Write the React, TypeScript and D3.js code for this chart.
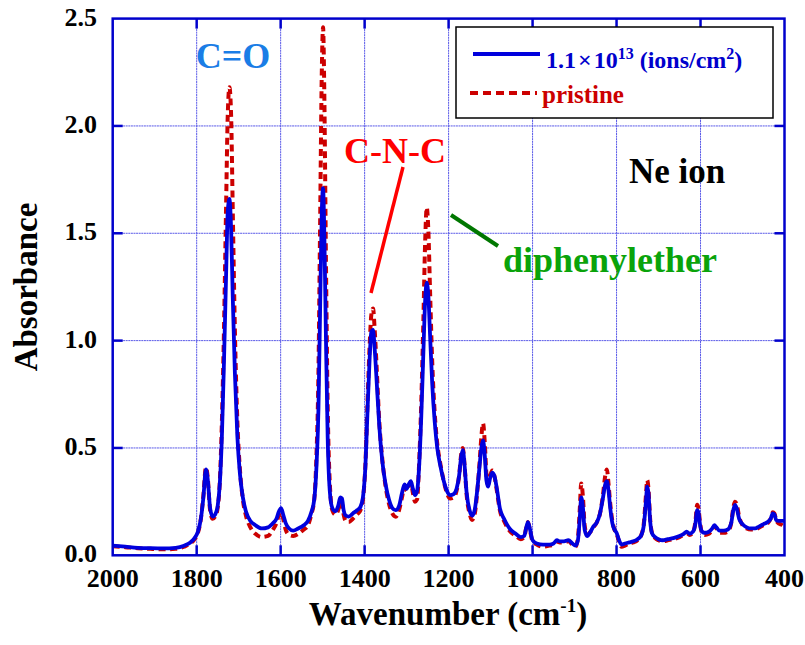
import React from "react";
import * as d3 from "d3";

const wavenumbers = [2000, 1970, 1940, 1910, 1880, 1850, 1830, 1815, 1805, 1797, 1790, 1784, 1778, 1774, 1768, 1762, 1756, 1750, 1745, 1740, 1735, 1730, 1726, 1722, 1718, 1714, 1709, 1703, 1697, 1690, 1682, 1672, 1660, 1645, 1630, 1618, 1610, 1604, 1599, 1594, 1588, 1580, 1570, 1558, 1545, 1535, 1527, 1520, 1515, 1510, 1506, 1502, 1499, 1496, 1492, 1488, 1483, 1477, 1470, 1463, 1458, 1454, 1450, 1445, 1438, 1428, 1418, 1410, 1404, 1398, 1393, 1388, 1384, 1380, 1376, 1371, 1365, 1358, 1350, 1342, 1334, 1326, 1318, 1311, 1305, 1300, 1295, 1290, 1285, 1280, 1275, 1270, 1265, 1260, 1256, 1252, 1248, 1244, 1239, 1233, 1227, 1220, 1212, 1204, 1196, 1188, 1181, 1175, 1170, 1166, 1162, 1157, 1150, 1144, 1138, 1132, 1126, 1122, 1118, 1114, 1110, 1106, 1101, 1096, 1091, 1085, 1078, 1068, 1055, 1040, 1028, 1020, 1015, 1011, 1006, 1000, 990, 975, 960, 950, 942, 935, 925, 915, 905, 898, 892, 888, 884, 880, 876, 870, 862, 855, 848, 840, 833, 827, 823, 819, 815, 810, 805, 800, 794, 788, 780, 770, 760, 750, 742, 735, 730, 727, 724, 720, 715, 708, 700, 690, 678, 665, 650, 640, 633, 626, 618, 612, 608, 605, 601, 596, 590, 580, 572, 567, 562, 555, 545, 535, 527, 522, 518, 514, 508, 500, 490, 480, 470, 460, 450, 440, 433, 428, 424, 420, 415, 410, 405, 400];

const irradiated = [0.045, 0.04, 0.035, 0.033, 0.032, 0.035, 0.045, 0.06, 0.08, 0.11, 0.17, 0.27, 0.40, 0.36, 0.22, 0.18, 0.19, 0.23, 0.33, 0.55, 0.90, 1.30, 1.60, 1.66, 1.52, 1.20, 0.85, 0.55, 0.38, 0.27, 0.20, 0.16, 0.14, 0.125, 0.13, 0.15, 0.17, 0.205, 0.22, 0.19, 0.15, 0.125, 0.115, 0.125, 0.14, 0.16, 0.20, 0.26, 0.40, 0.68, 1.15, 1.60, 1.71, 1.50, 1.00, 0.55, 0.30, 0.22, 0.205, 0.23, 0.27, 0.265, 0.21, 0.185, 0.18, 0.195, 0.21, 0.225, 0.27, 0.42, 0.68, 0.92, 1.04, 1.05, 0.96, 0.80, 0.60, 0.44, 0.33, 0.26, 0.22, 0.21, 0.23, 0.29, 0.33, 0.31, 0.33, 0.345, 0.31, 0.28, 0.30, 0.42, 0.65, 0.95, 1.18, 1.27, 1.20, 1.02, 0.80, 0.62, 0.50, 0.42, 0.35, 0.30, 0.28, 0.285, 0.31, 0.37, 0.46, 0.49, 0.42, 0.29, 0.21, 0.185, 0.21, 0.30, 0.42, 0.50, 0.535, 0.47, 0.35, 0.32, 0.36, 0.385, 0.37, 0.31, 0.22, 0.17, 0.125, 0.10, 0.085, 0.09, 0.13, 0.155, 0.12, 0.07, 0.055, 0.05, 0.05, 0.055, 0.07, 0.065, 0.065, 0.07, 0.055, 0.045, 0.07, 0.16, 0.27, 0.22, 0.12, 0.09, 0.11, 0.135, 0.15, 0.19, 0.26, 0.33, 0.345, 0.30, 0.22, 0.15, 0.12, 0.105, 0.07, 0.05, 0.055, 0.06, 0.065, 0.075, 0.09, 0.14, 0.25, 0.32, 0.29, 0.16, 0.10, 0.085, 0.075, 0.07, 0.075, 0.08, 0.09, 0.10, 0.11, 0.10, 0.11, 0.15, 0.21, 0.20, 0.14, 0.11, 0.105, 0.11, 0.125, 0.14, 0.13, 0.115, 0.115, 0.12, 0.15, 0.21, 0.235, 0.22, 0.17, 0.145, 0.13, 0.125, 0.125, 0.135, 0.145, 0.155, 0.17, 0.195, 0.19, 0.165, 0.16, 0.16, 0.16, 0.16];

const pristine = [0.042, 0.038, 0.033, 0.03, 0.028, 0.03, 0.04, 0.055, 0.075, 0.105, 0.17, 0.28, 0.41, 0.37, 0.21, 0.17, 0.18, 0.22, 0.34, 0.62, 1.05, 1.62, 2.05, 2.18, 2.05, 1.60, 1.05, 0.62, 0.40, 0.26, 0.18, 0.13, 0.10, 0.085, 0.09, 0.12, 0.15, 0.19, 0.20, 0.17, 0.12, 0.095, 0.09, 0.10, 0.12, 0.14, 0.19, 0.26, 0.45, 0.85, 1.55, 2.25, 2.46, 2.15, 1.35, 0.70, 0.34, 0.21, 0.19, 0.21, 0.25, 0.24, 0.19, 0.16, 0.155, 0.17, 0.19, 0.21, 0.26, 0.43, 0.72, 0.98, 1.12, 1.15, 1.05, 0.86, 0.62, 0.45, 0.32, 0.24, 0.195, 0.18, 0.21, 0.27, 0.32, 0.30, 0.32, 0.34, 0.29, 0.25, 0.26, 0.44, 0.72, 1.10, 1.45, 1.62, 1.50, 1.22, 0.90, 0.66, 0.52, 0.43, 0.35, 0.29, 0.265, 0.27, 0.30, 0.37, 0.47, 0.50, 0.42, 0.28, 0.195, 0.165, 0.19, 0.29, 0.44, 0.55, 0.615, 0.53, 0.38, 0.33, 0.37, 0.395, 0.37, 0.30, 0.21, 0.16, 0.115, 0.09, 0.075, 0.085, 0.13, 0.155, 0.115, 0.065, 0.05, 0.04, 0.045, 0.05, 0.065, 0.06, 0.06, 0.065, 0.05, 0.04, 0.08, 0.20, 0.335, 0.27, 0.14, 0.095, 0.11, 0.13, 0.15, 0.19, 0.27, 0.37, 0.40, 0.33, 0.24, 0.16, 0.12, 0.10, 0.065, 0.04, 0.045, 0.055, 0.06, 0.07, 0.09, 0.15, 0.28, 0.35, 0.31, 0.17, 0.10, 0.08, 0.07, 0.065, 0.07, 0.075, 0.085, 0.095, 0.105, 0.095, 0.105, 0.16, 0.235, 0.22, 0.15, 0.10, 0.095, 0.10, 0.12, 0.135, 0.125, 0.105, 0.105, 0.11, 0.15, 0.22, 0.25, 0.24, 0.18, 0.14, 0.125, 0.12, 0.12, 0.13, 0.14, 0.15, 0.17, 0.20, 0.195, 0.165, 0.15, 0.145, 0.14, 0.13];

const xTicks = [2000, 1800, 1600, 1400, 1200, 1000, 800, 600, 400];
const yTicks = [0, 0.5, 1.0, 1.5, 2.0, 2.5];

const FONT = "Liberation Serif, DejaVu Serif, Times New Roman, serif";

export default function App() {
  const left = 112.7, right = 784.5, top = 18.6, bottom = 555.3;
  const x = d3.scaleLinear().domain([2000, 400]).range([left, right]);
  const y = d3.scaleLinear().domain([0, 2.5]).range([bottom, top]);

  const line = (vals: number[]) =>
    d3
      .line<number>()
      .x((_, i) => x(wavenumbers[i]))
      .y((v) => y(v))
      .curve(d3.curveMonotoneX)(vals) || "";

  const frame = "#0000cc";
  const grid = "#5a5ae8";
  const tickLen = 10;
  const txt: React.CSSProperties = { fontFamily: FONT, fontWeight: 700 };

  return (
    <svg
      width={805}
      height={645}
      style={{ position: "absolute", left: 0, top: 0, background: "#fff" }}
    >
      <rect x={0} y={0} width={805} height={645} fill="#fff" />
      {/* grid */}
      {xTicks.slice(1, -1).map((t) => (
        <line key={"gx" + t} x1={x(t)} x2={x(t)} y1={top} y2={bottom} stroke={grid} strokeWidth={1} strokeDasharray="2,0.6" />
      ))}
      {yTicks.slice(1, -1).map((t) => (
        <line key={"gy" + t} x1={left} x2={right} y1={y(t)} y2={y(t)} stroke={grid} strokeWidth={1} strokeDasharray="2,0.6" />
      ))}

      {/* data */}
      <path d={line(pristine)} fill="none" stroke="#cc0000" strokeWidth={4} strokeDasharray="7,4.5" strokeLinejoin="round" />
      <path d={line(irradiated)} fill="none" stroke="#0000dd" strokeWidth={3.8} strokeLinejoin="round" />

      {/* frame */}
      <rect x={left} y={top} width={right - left} height={bottom - top} fill="none" stroke={frame} strokeWidth={2.5} />
      {xTicks.slice(1, -1).map((t) => (
        <g key={"tx" + t}>
          <line x1={x(t)} x2={x(t)} y1={bottom} y2={bottom - tickLen} stroke={frame} strokeWidth={2.5} />
          <line x1={x(t)} x2={x(t)} y1={top} y2={top + tickLen} stroke={frame} strokeWidth={2.5} />
        </g>
      ))}
      {yTicks.slice(1, -1).map((t) => (
        <g key={"ty" + t}>
          <line x1={left} x2={left + tickLen} y1={y(t)} y2={y(t)} stroke={frame} strokeWidth={2.5} />
          <line x1={right} x2={right - tickLen} y1={y(t)} y2={y(t)} stroke={frame} strokeWidth={2.5} />
        </g>
      ))}

      {/* tick labels */}
      {xTicks.map((t) => (
        <text key={"lx" + t} x={x(t)} y={587} fontSize={26} textAnchor="middle" fill="#000" style={txt}>
          {t}
        </text>
      ))}
      {yTicks.map((t) => (
        <text key={"ly" + t} x={97} y={y(t) + 7} fontSize={26} textAnchor="end" fill="#000" style={txt}>
          {t.toFixed(1)}
        </text>
      ))}

      {/* axis titles */}
      <text x={448} y={625} fontSize={33} textAnchor="middle" fill="#000" style={txt}>
        Wavenumber (cm<tspan fontSize={19} dy={-13}>-1</tspan><tspan dy={13}>)</tspan>
      </text>
      <text transform="translate(37,287) rotate(-90)" fontSize={33} textAnchor="middle" fill="#000" style={txt}>
        Absorbance
      </text>

      {/* legend */}
      <rect x={456} y={27} width={317} height={91} fill="#fff" stroke="#000" strokeWidth={1.5} />
      <line x1={473} x2={540} y1={54} y2={54} stroke="#0000dd" strokeWidth={4} />
      <text x={546} y={68} fontSize={24} fill="#0000cc" style={txt}>
        1.1<tspan dx={2}>×</tspan><tspan dx={2}>10</tspan><tspan fontSize={16} dy={-9}>13</tspan><tspan dy={9}> (ions/cm</tspan><tspan fontSize={16} dy={-9}>2</tspan><tspan dy={9}>)</tspan>
      </text>
      <line x1={470} x2={537} y1={93} y2={93} stroke="#cc0000" strokeWidth={4} strokeDasharray="8,5" />
      <text x={542} y={103} fontSize={25} fill="#cc0000" style={txt}>
        pristine
      </text>

      {/* annotations */}
      <text x={233} y={68} fontSize={36} textAnchor="middle" fill="#1a7de6" style={txt}>
        C=O
      </text>
      <text x={395} y={163} fontSize={36} textAnchor="middle" fill="#ff0000" style={txt}>
        C-N-C
      </text>
      <line x1={403} y1={167} x2={371} y2={293} stroke="#ff0000" strokeWidth={3.5} />
      <line x1={451} y1={215} x2={498} y2={246} stroke="#007700" strokeWidth={4} />
      <text x={503} y={272} fontSize={36} fill="#0aa30a" style={txt}>
        diphenylether
      </text>
      <text x={629} y={183} fontSize={35} fill="#000" style={txt}>
        Ne ion
      </text>
    </svg>
  );
}
